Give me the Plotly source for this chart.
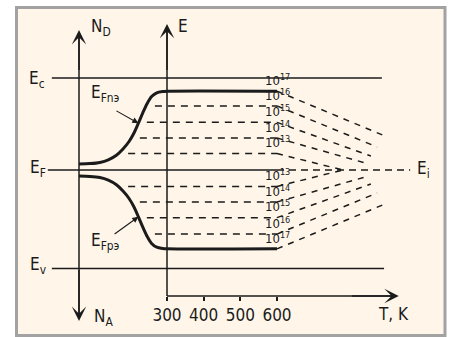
import plotly.graph_objects as go

# ---------------- data ----------------
# energies in eV, measured from the intrinsic level Ei
E_C = 0.56
E_V = -0.60
E_I = 0.0

# temperature axis (K)
T_TICKS = [300, 400, 500, 600]
T_AXIS_END = 932

# doping concentrations and the quasi-Fermi levels they give
DOPING_LABELS = ["10<sup>17</sup>", "10<sup>16</sup>", "10<sup>15</sup>",
                 "10<sup>14</sup>", "10<sup>13</sup>"]
EFN_LEVELS = [0.48, 0.39, 0.29, 0.195, 0.10]
EFP_LEVELS = [-0.48, -0.39, -0.29, -0.195, -0.10]
LEVEL_START = [300, 267, 245, 226, 194]      # where each plateau begins
T_FLAT_END = 600                               # plateau end
T_HIGH = [902, 873, 856, 840, 780]             # high-temperature end points
EFN_HIGH = [0.20, 0.14, 0.085, 0.043, 0.0]
EFP_HIGH = [-0.20, -0.14, -0.085, -0.043, 0.0]

# quasi-Fermi levels versus doping (left part of the diagram)
N_X = [60, 90, 117, 140, 162, 180, 196, 210, 222, 234, 246, 258, 272, 288, 300, 600]
EFN_CURVE = [0.037, 0.039, 0.046, 0.062, 0.090, 0.128, 0.172, 0.225, 0.285,
             0.348, 0.405, 0.447, 0.470, 0.478, 0.48, 0.48]
P_X = [60, 90, 117, 140, 162, 180, 196, 210, 222, 234, 246, 258, 272, 288, 300, 600]
EFP_CURVE = [-0.037, -0.039, -0.046, -0.062, -0.090, -0.128, -0.172, -0.225,
             -0.285, -0.348, -0.405, -0.447, -0.470, -0.478, -0.48, -0.48]

# ---------------- geometry of the diagram (axis coordinates) ----------------
X_RANGE = [-155.45, 1071.8]
Y_RANGE = [-1.0165, 1.0348]
X_N_AXIS = 60
X_E_AXIS = 300
Y_T_AXIS = -0.767
N_AXIS_TOP, N_AXIS_BOTTOM = 0.852, -0.919
E_AXIS_TOP = 0.889
BAND_X = [-14, 886]
VAL_X = [-14, 892]
FERMI_X = [-25, 600, 963]

INK = "#1b1b1b"
FONT = "Liberation Sans Narrow, Arial Narrow, DejaVu Sans Condensed, sans-serif"

fig = go.Figure()


def line(x, y, width=1.5, dash=None, xaxis="x"):
    fig.add_trace(go.Scatter(
        x=x, y=y, mode="lines", xaxis=xaxis, hoverinfo="skip", showlegend=False,
        line=dict(color=INK, width=width, dash=dash)))


# band edges
line(BAND_X, [E_C, E_C])
line(VAL_X, [E_V, E_V])
line(FERMI_X[:2], [E_I, E_I])
line(FERMI_X[1:], [E_I, E_I], dash="7px,5px")

# dashed plateaus and their drift towards Ei
for i in range(len(EFN_LEVELS)):
    if i > 0:
        line([LEVEL_START[i], T_FLAT_END], [EFN_LEVELS[i]] * 2, dash="7px,6px")
        line([LEVEL_START[i], T_FLAT_END], [EFP_LEVELS[i]] * 2, dash="7px,6px")
    line([T_FLAT_END, T_HIGH[i]], [EFN_LEVELS[i], EFN_HIGH[i]], dash="6px,6px")
    line([T_FLAT_END, T_HIGH[i]], [EFP_LEVELS[i], EFP_HIGH[i]], dash="6px,6px")

# quasi-Fermi level curves
for xs, ys in ((N_X, EFN_CURVE), (P_X, EFP_CURVE)):
    fig.add_trace(go.Scatter(
        x=xs, y=ys, mode="lines", hoverinfo="skip", showlegend=False,
        line=dict(color=INK, width=3, shape="spline", smoothing=0.8)))

# E axis and T axis
line([X_E_AXIS, X_E_AXIS], [Y_T_AXIS, E_AXIS_TOP - 0.03], width=1.5)
line([X_E_AXIS, T_AXIS_END - 15], [Y_T_AXIS, Y_T_AXIS], width=1.5, xaxis="x2")
line([X_N_AXIS, X_N_AXIS], [N_AXIS_BOTTOM + 0.03, N_AXIS_TOP - 0.03], width=1.5)

ann = []


def arrow(x, y, ax, ay, size=1.6, width=1.5, head=3):
    ann.append(dict(x=x, y=y, ax=ax, ay=ay, xref="x", yref="y", axref="x", ayref="y",
                    showarrow=True, arrowhead=head, arrowsize=size, arrowwidth=width,
                    arrowcolor=INK, text=""))


arrow(X_N_AXIS, N_AXIS_TOP, X_N_AXIS, 0.6)
arrow(X_N_AXIS, N_AXIS_BOTTOM, X_N_AXIS, -0.6)
arrow(X_E_AXIS, E_AXIS_TOP, X_E_AXIS, 0.6)
arrow(T_AXIS_END, Y_T_AXIS, 800, Y_T_AXIS)
# pointers to the curves
arrow(N_X[8], EFN_CURVE[8], 158, 0.365, size=1.1, width=1.1, head=2)
arrow(P_X[8], EFP_CURVE[8], 153, -0.396, size=1.1, width=1.1, head=2)


def label(x, y, text, size=17, xanchor="left", yanchor="middle"):
    ann.append(dict(x=x, y=y, xref="x", yref="y", text=text, showarrow=False,
                    xanchor=xanchor, yanchor=yanchor,
                    font=dict(family=FONT, size=size, color=INK)))


label(87, 0.870, "N<sub>D</sub>")
label(324, 0.877, "E")
label(-82, 0.548, "E<sub>c</sub>")
label(-79, 0.012, "E<sub>F</sub>")
label(-79, -0.581, "E<sub>v</sub>")
label(976, 0.006, "E<sub>i</sub>")
label(87, 0.463, "E<sub>Fnэ</sub>")
label(87, -0.435, "E<sub>Fpэ</sub>")
label(95, -0.895, "N<sub>A</sub>")
label(918, -0.877, "T, K", xanchor="center")
for i, txt in enumerate(DOPING_LABELS):
    label(562, EFN_LEVELS[i] + 0.008, txt, size=13, yanchor="bottom")
    label(562, EFP_LEVELS[i] + 0.008, txt, size=13, yanchor="bottom")

fig.update_layout(
    width=450, height=337,
    margin=dict(l=0, r=0, t=0, b=0),
    paper_bgcolor="white", plot_bgcolor="rgba(0,0,0,0)",
    showlegend=False,
    xaxis=dict(range=X_RANGE, visible=False, fixedrange=True),
    yaxis=dict(range=Y_RANGE, visible=False, fixedrange=True),
    xaxis2=dict(range=X_RANGE, overlaying="x", anchor="free",
                position=(Y_T_AXIS - Y_RANGE[0]) / (Y_RANGE[1] - Y_RANGE[0]),
                tickvals=T_TICKS, ticktext=[str(t) for t in T_TICKS],
                ticks="outside", ticklen=4, tickwidth=1.5, tickcolor=INK,
                showline=False, showgrid=False, zeroline=False,
                tickfont=dict(family=FONT, size=17, color=INK), fixedrange=True),
    shapes=[dict(type="rect", xref="paper", yref="paper",
                 x0=16.5 / 450, x1=445 / 450, y0=1.5 / 337, y1=1 - 7.5 / 337,
                 line=dict(color="#a2a2a2", width=3), fillcolor="#fff6e9",
                 layer="below")],
    annotations=ann,
)

fig.write_html("out.html")
